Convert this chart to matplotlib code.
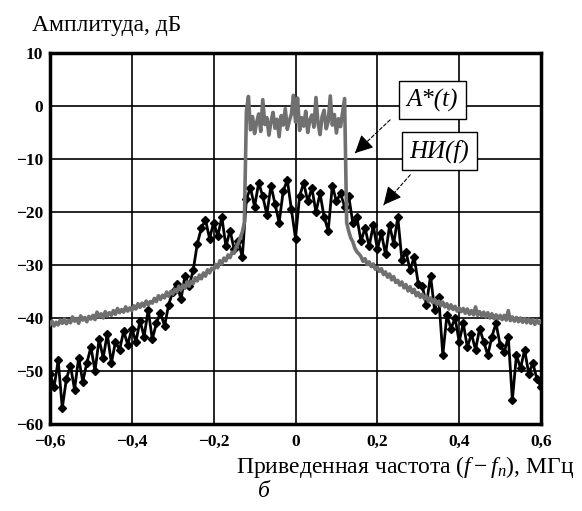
import matplotlib
matplotlib.use("Agg")
import matplotlib.pyplot as plt
import numpy as np

plt.rcParams['font.family'] = ['Liberation Serif', 'DejaVu Serif']
plt.rcParams['mathtext.fontset'] = 'custom'
plt.rcParams['mathtext.rm'] = 'Liberation Serif'
plt.rcParams['mathtext.it'] = 'Liberation Serif:italic'

# A*(t) spectrum (grey), step 0.005 MHz from -0.6 to 0.6
gray_x = np.linspace(-0.6, 0.6, 241)
gray_left = [
    -41.2, -40.6, -41.5, -40.8, -41.3, -40.4, -41.0, -40.2, -41.1, -40.5,
    -40.9, -39.8, -40.6, -40.1, -41.0, -39.6, -40.4, -39.9, -40.7, -39.7,
    -40.2, -39.5, -40.3, -38.9, -39.8, -39.2, -40.0, -38.8, -39.6, -39.0,
    -39.5, -38.6, -39.3, -38.2, -39.0, -38.4, -38.9, -37.9, -38.7, -38.1,
    -38.6, -37.7, -38.3, -37.3, -38.0, -37.2, -37.8, -36.8, -37.5, -36.9,
    -37.2, -36.3, -36.9, -35.8, -36.5, -35.7, -36.2, -35.1, -35.9, -35.0,
    -35.5, -34.6, -35.1, -34.0, -34.7, -33.8, -34.4, -33.2, -34.0, -33.1,
    -33.5, -32.4, -33.0, -31.9, -32.6, -31.5, -32.1, -30.9, -31.5, -30.6,
    -30.9, -29.9, -30.5, -29.2, -29.8, -28.7, -29.2, -28.1, -28.6, -27.6,
    -27.8, -26.6, -25.9, -24.8, -23.8, -22.0]
gray_top = [
    -1.0, 1.8, -4.5, -2.0, -5.2, -3.1, -1.5, -4.8, 1.2, -3.5,
    -2.2, -5.5, -3.0, -1.2, -4.2, -2.5, -5.8, -1.8, -3.6, -0.5,
    -4.4, -2.8, -1.5, 2.0, -3.0, 1.5, -4.6, -2.2, -3.8, -1.0,
    -5.0, -2.6, -1.7, -4.0, 1.6, -3.2, -5.4, -2.0, -0.8, -4.3,
    -2.9, 1.9, -3.6, -1.6, -5.1, -2.4, -3.9, -1.2, 1.4]
gray_right = [
    -22.0, -23.6, -24.9, -25.6, -26.8, -27.5,
    -27.9, -28.4, -29.3, -28.8, -29.9, -29.4, -30.3, -29.8, -30.8, -30.4,
    -31.2, -30.7, -31.8, -31.3, -32.3, -31.7, -32.8, -32.2, -33.3, -32.9,
    -33.8, -33.2, -34.3, -33.7, -34.9, -34.1, -35.2, -34.6, -35.8, -35.2,
    -36.1, -35.5, -36.4, -35.9, -36.9, -36.2, -37.1, -36.5, -37.4, -36.8,
    -37.7, -37.0, -37.9, -37.3, -38.3, -37.5, -38.4, -37.8, -38.7, -38.1,
    -38.8, -38.2, -39.1, -38.3, -39.3, -38.6, -39.4, -37.9, -39.5, -38.8,
    -39.6, -38.9, -39.8, -39.0, -40.0, -39.2, -40.1, -39.4, -40.2, -39.5,
    -40.3, -39.5, -40.4, -38.6, -40.5, -39.8, -40.6, -39.9, -40.7, -40.0,
    -40.8, -40.1, -40.9, -40.2, -41.0, -40.3, -41.2, -40.4, -41.0, -40.6]
gray_y = gray_left + gray_top + gray_right

# НИ(f) spectrum (black), step 0.01 MHz
black_x = np.linspace(-0.6, 0.6, 121)
black_y = [
    -50.5, -53.0, -48.0, -57.0, -51.5, -49.0, -53.5, -47.5, -52.0, -48.5,
    -45.5, -50.0, -44.0, -47.5, -43.0, -48.5, -44.5, -46.0, -42.5, -45.0,
    -42.0, -44.5, -40.5, -43.5, -38.5, -44.0, -41.0, -39.0, -41.5, -37.5,
    -35.0, -33.5, -36.5, -32.0, -34.0, -31.0, -26.0, -23.0, -21.5, -25.0,
    -22.0, -24.5, -21.0, -26.5, -23.5, -27.0, -25.5, -28.5, -17.5, -15.5,
    -19.0, -14.5, -17.0, -20.5, -15.0, -18.5, -22.0, -16.0, -14.0, -19.5,
    -25.0, -17.0, -14.5, -18.0, -15.5, -20.0, -16.5, -21.0, -23.5, -15.0,
    -18.0,
    -16.5, -19.0, -17.0, -22.0, -21.0, -25.5, -23.0, -26.5, -22.5, -27.0,
    -24.0, -28.0, -22.5, -26.0, -21.0, -29.0, -27.5, -31.0, -28.5, -33.5,
    -34.0, -37.5, -32.0, -38.5, -36.0, -47.0, -39.5, -42.0, -40.0, -44.5,
    -41.0, -45.5, -43.0, -46.0, -42.0, -44.5, -47.0, -43.5, -41.0, -45.0,
    -46.5, -43.5, -55.5, -47.0, -49.5, -46.0, -50.5, -48.5, -51.5, -53.0]

x_ticks = [-0.6, -0.4, -0.2, 0, 0.2, 0.4, 0.6]
x_labels = ['\u22120,6', '\u22120,4', '\u22120,2', '0', '0,2', '0,4', '0,6']
y_ticks = [-60, -50, -40, -30, -20, -10, 0, 10]
y_labels = ['\u221260', '\u221250', '\u221240', '\u221230', '\u221220', '\u221210', '0', '10']

fig = plt.figure(figsize=(5.82, 5.11), dpi=100)
ax = fig.add_axes([50 / 582, 1 - 424 / 511, 491 / 582, 371 / 511])

ax.plot(black_x, black_y, color='black', linewidth=2.0, marker='D',
        markersize=4.5, zorder=3)
ax.plot(gray_x, gray_y, color='#707070', linewidth=2.6, zorder=4)

ax.set_xlim(-0.6, 0.6)
ax.set_ylim(-60, 10)
ax.set_xticks(x_ticks)
ax.set_xticklabels(x_labels)
ax.set_yticks(y_ticks)
ax.set_yticklabels(y_labels)
ax.tick_params(length=0, labelsize=12.5)
ax.tick_params(axis='x', pad=7)
ax.tick_params(axis='y', pad=5)
for lab in ax.get_xticklabels() + ax.get_yticklabels():
    lab.set_fontweight('bold')
ax.grid(True, color='black', linewidth=1.2)
ax.set_axisbelow(True)
for s in ax.spines.values():
    s.set_linewidth(2.5)

box = dict(boxstyle='square,pad=0.3', facecolor='white', edgecolor='black', linewidth=1)

# arrows (dashed shaft, solid head)
ax.annotate('', xy=(0.1405, -9.25), xytext=(0.236, -2.26),
            arrowprops=dict(arrowstyle='-', linestyle=(0, (3, 2)), linewidth=0.8, color='black'),
            zorder=6)
ax.annotate('', xy=(0.1405, -9.25), xytext=(0.16, -7.8),
            arrowprops=dict(arrowstyle='-|>,head_length=1.1,head_width=0.55', linewidth=0.8,
                            color='black'), zorder=6)
ax.annotate('', xy=(0.211, -19.06), xytext=(0.285, -12.6),
            arrowprops=dict(arrowstyle='-', linestyle=(0, (3, 2)), linewidth=0.8, color='black'),
            zorder=6)
ax.annotate('', xy=(0.211, -19.06), xytext=(0.229, -17.4),
            arrowprops=dict(arrowstyle='-|>,head_length=1.1,head_width=0.55', linewidth=0.8,
                            color='black'), zorder=6)

ax.text(0.335, 1.1, 'A*(t)', fontsize=18, style='italic', ha='center', va='center',
        bbox=box, zorder=7)
ax.text(0.352, -8.5, '\u041d\u0418(f)', fontsize=18, style='italic', ha='center', va='center',
        bbox=box, zorder=7)

fig.text(32 / 582, 1 - 25 / 511, 'Амплитуда, дБ', fontsize=17, ha='left', va='center')
fig.text(236 / 582, 1 - 467 / 511, 'Приведенная частота ($f-f_n$), МГц', fontsize=17,
         ha='left', va='center')
fig.text(258 / 582, 1 - 491 / 511, 'б', fontsize=17, style='italic', ha='left', va='center')

fig.savefig('out.png', dpi=100)
